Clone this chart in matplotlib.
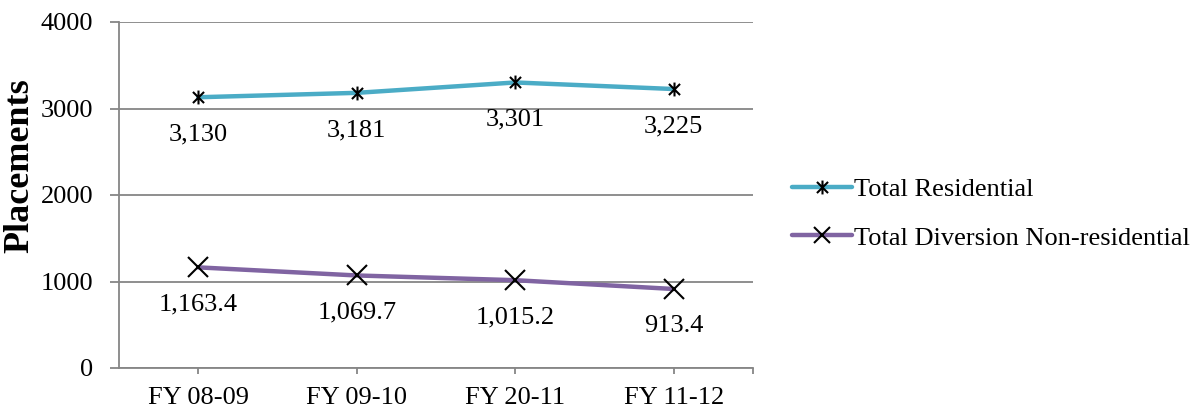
import matplotlib
matplotlib.use("Agg")
import matplotlib.pyplot as plt
from matplotlib.path import Path
from matplotlib.lines import Line2D

plt.rcParams['font.family'] = ['Liberation Serif', 'DejaVu Serif']

categories = ["FY 08-09", "FY 09-10", "FY 20-11", "FY 11-12"]
residential = [3130, 3181, 3301, 3225]
diversion = [1163.4, 1069.7, 1015.2, 913.4]
residential_labels = ["3,130", "3,181", "3,301", "3,225"]
diversion_labels = ["1,163.4", "1,069.7", "1,015.2", "913.4"]

teal = "#4BACC6"
purple = "#8064A2"
grid_gray = "#868686"
FS = 19

# asterisk marker: an X with a vertical stroke
star_path = Path(
    [(-1, -1), (1, 1), (-1, 1), (1, -1), (0, -1.25), (0, 1.25)],
    [Path.MOVETO, Path.LINETO, Path.MOVETO, Path.LINETO, Path.MOVETO, Path.LINETO],
)

fig = plt.figure(figsize=(11.98, 4.13), dpi=100)
ax = fig.add_axes([119 / 1198, 1 - 368 / 413, (753 - 119) / 1198, (368 - 22) / 413])

x = list(range(len(categories)))
ax.plot(x, residential, color=teal, lw=3.2, solid_capstyle="round", zorder=3)
ax.plot(x, residential, ls="none", marker=star_path, ms=10, mec="black", mfc="none",
        mew=1.5, zorder=4)
ax.plot(x, diversion, color=purple, lw=3.2, solid_capstyle="round", zorder=3)
ax.plot(x, diversion, ls="none", marker="x", ms=14, mec="black", mew=1.5, zorder=4)

for xi, v, t in zip(x, residential, residential_labels):
    ax.annotate(t, (xi, v), xytext=(0, -19), textcoords="offset points",
                ha="center", va="top", fontsize=FS)
for xi, v, t in zip(x, diversion, diversion_labels):
    ax.annotate(t, (xi, v), xytext=(0, -19), textcoords="offset points",
                ha="center", va="top", fontsize=FS)

ax.set_xlim(-0.5, len(categories) - 0.5)
ax.set_ylim(0, 4000)
ax.set_yticks([0, 1000, 2000, 3000, 4000])
ax.yaxis.grid(True, color=grid_gray, lw=1.3)
ax.set_axisbelow(True)
for side in ["top", "right"]:
    ax.spines[side].set_visible(False)
for side in ["left", "bottom"]:
    ax.spines[side].set_color(grid_gray)
    ax.spines[side].set_linewidth(1.3)

ax.set_xticks(x)
ax.set_xticklabels(categories, fontsize=FS)
ax.tick_params(axis="x", length=4, width=1.3, color=grid_gray, pad=10)
ax.set_xticks([len(categories) - 0.5], minor=True)
ax.tick_params(axis="x", which="minor", length=4, width=1.3, color=grid_gray)
ax.tick_params(axis="y", length=6.5, width=1.3, color=grid_gray, labelsize=FS, pad=12)
ax.set_ylabel("Placements", fontsize=26, fontweight="bold")
ax.yaxis.set_label_coords((36 - 119) / 634, (368 - 166) / 346)

handles = [
    Line2D([], [], color=teal, lw=3.2, solid_capstyle="round", marker=star_path, ms=10,
           mec="black", mfc="none", mew=1.5),
    Line2D([], [], color=purple, lw=3.2, solid_capstyle="round", marker="x", ms=12,
           mec="black", mew=1.5),
]
fig.legend(handles, ["Total Residential", "Total Diversion Non-residential"],
           loc="upper left", bbox_to_anchor=(781 / 1198, 1 - 167 / 413),
           frameon=False, fontsize=FS, handlelength=2.3, handletextpad=0.05,
           labelspacing=0.95, borderaxespad=0)

fig.savefig("out.png", dpi=100)
